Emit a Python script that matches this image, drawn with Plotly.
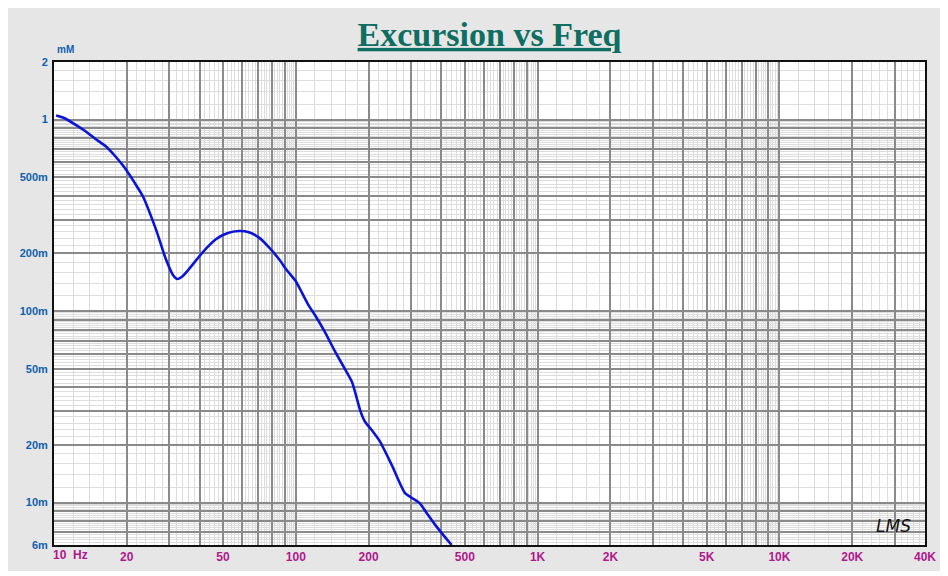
import plotly.graph_objects as go

# ---- data ----
freq_hz = [10.2, 11.0, 12.3, 13.5, 15.0, 16.5, 18.0, 19.5, 21.5, 23.3, 26.4, 29.0,
           31.0, 32.4, 34.0, 36.2, 41.1, 46.7, 52.0, 58.3, 64.0, 70.5, 77.0, 85.1,
           92.0, 99.7, 113.0, 120.5, 131.0, 145.8, 158.0, 170.8, 185.0, 193.0,
           206.0, 223.0, 249.5, 283.0, 305.0, 326.0, 350.0, 377.0, 410.0, 441.0]
excursion_mm = [1.05, 1.02, 0.94, 0.87, 0.785, 0.72, 0.64, 0.565, 0.47, 0.398, 0.267, 0.187,
                0.155, 0.147, 0.152, 0.166, 0.202, 0.237, 0.255, 0.262, 0.258, 0.242, 0.217, 0.187,
                0.163, 0.144, 0.107, 0.0946, 0.079, 0.061, 0.051, 0.0426, 0.030, 0.0265,
                0.0239, 0.0208, 0.01568, 0.0112, 0.0105, 0.0099, 0.0087, 0.00764, 0.0067, 0.006]

x_tick_vals = [10, 20, 50, 100, 200, 500, 1000, 2000, 5000, 10000, 20000, 40000]
x_tick_text = ["", "20", "50", "100", "200", "500", "1K", "2K", "5K", "10K", "20K", "40K"]
y_tick_vals = [0.006, 0.01, 0.02, 0.05, 0.1, 0.2, 0.5, 1, 2]
y_tick_text = ["6m", "10m", "20m", "50m", "100m", "200m", "500m", "1", "2"]

title_text = "Excursion vs Freq"
y_unit = "mM"
x_unit_label = "10  Hz"

# ---- grid helpers (1..9 per decade dark, 0.2-steps light) ----
def major_lines(lo, hi):
    vals = []
    dec = 1e-4
    while dec <= hi * 10:
        for m in range(1, 10):
            v = round(m * dec, 10)
            if lo * 0.999 <= v <= hi * 1.001:
                vals.append(v)
        dec *= 10
    return vals

def minor_lines(lo, hi):
    vals = []
    dec = 1e-4
    while dec <= hi * 10:
        for k in range(10, 100, 2):
            if k % 10 == 0:
                continue
            v = k / 10 * dec
            if lo < v < hi:
                vals.append(v)
        dec *= 10
    return vals

def label_for(v, vals, texts):
    for t, s in zip(vals, texts):
        if abs(t - v) / t < 1e-6:
            return s
    return ""

xmaj = major_lines(10, 40000)
ymaj = major_lines(0.006, 2)
xmaj_text = [label_for(v, x_tick_vals, x_tick_text) for v in xmaj]
ymaj_text = [label_for(v, y_tick_vals, y_tick_text) for v in ymaj]

# figure is placed by the page at an (8, 8) offset, so it is 8px smaller
W, H = 940, 568
OX, OY = 8, 8
L, R, T, B = 51 - OX, 948 - 925, 62 - OY, 576 - 547
PW, PH = W - L - R, H - T - B

def px(xpix):
    return (xpix - OX - L) / PW

def py(ypix):
    return (H - B - (ypix - OY)) / PH

fig = go.Figure()
fig.add_trace(go.Scatter(
    x=freq_hz, y=excursion_mm, mode="lines",
    line=dict(color="#0A14D8", width=2.6, shape="spline", smoothing=0.6),
    hoverinfo="x+y", showlegend=False,
))

fig.update_layout(
    width=W, height=H,
    margin=dict(l=L, r=R, t=T, b=B),
    paper_bgcolor="#E6E6E6",
    plot_bgcolor="#FFFFFF",
    title=dict(
        text="<b><u>" + title_text + "</u></b>",
        font=dict(family="Liberation Serif", size=34, color="#0E6E62"),
        x=0.5, xref="paper", xanchor="center",
        y=1 - (34 - OY) / H, yref="container", yanchor="middle",
    ),
    xaxis=dict(
        type="log", range=[1, 4.60206],
        tickmode="array", tickvals=xmaj, ticktext=xmaj_text,
        ticks="", showgrid=True, gridcolor="#8A8A8A", gridwidth=1.5,
        tickfont=dict(family="Arial", size=12, color="#B0188C", weight="bold"),
        showline=True, linecolor="#111111", linewidth=2, mirror=True,
        minor=dict(tickmode="array", tickvals=minor_lines(10, 40000), showgrid=True,
                   gridcolor="#DDDDDD", gridwidth=1, ticks=""),
        zeroline=False,
    ),
    yaxis=dict(
        type="log", range=[-2.2218487, 0.30103],
        tickmode="array", tickvals=ymaj, ticktext=ymaj_text,
        ticks="", showgrid=True, gridcolor="#8A8A8A", gridwidth=1.5,
        tickfont=dict(family="Arial", size=11, color="#1060B0", weight="bold"),
        ticklabelstandoff=2,
        showline=True, linecolor="#111111", linewidth=2, mirror=True,
        minor=dict(tickmode="array", tickvals=minor_lines(0.006, 2), showgrid=True,
                   gridcolor="#DDDDDD", gridwidth=1, ticks=""),
        zeroline=False,
    ),
    annotations=[
        dict(text="<b>" + y_unit + "</b>", xref="paper", yref="paper",
             x=px(52), y=py(49), xanchor="left", yanchor="middle",
             showarrow=False, font=dict(family="Arial", size=10, color="#1060B0")),
        dict(text="<b>" + x_unit_label + "</b>", xref="paper", yref="paper",
             x=px(48), y=py(557), xanchor="left", yanchor="middle",
             showarrow=False, font=dict(family="Arial", size=12, color="#B0188C")),
        dict(text="<i>LMS</i>", xref="paper", yref="paper",
             x=px(893), y=py(528), xanchor="center", yanchor="middle",
             showarrow=False, font=dict(family="DejaVu Sans", size=17, color="#111111")),
    ],
    shapes=[
        dict(type="rect", xref="paper", yref="paper", layer="above", line_width=0,
             fillcolor="#FFFFFF", x0=px(943), x1=px(960), y0=py(600), y1=py(0)),
        dict(type="rect", xref="paper", yref="paper", layer="above", line_width=0,
             fillcolor="#FFFFFF", x0=px(0), x1=px(960), y0=py(600), y1=py(573)),
    ],
)

fig.write_html("out.html")
